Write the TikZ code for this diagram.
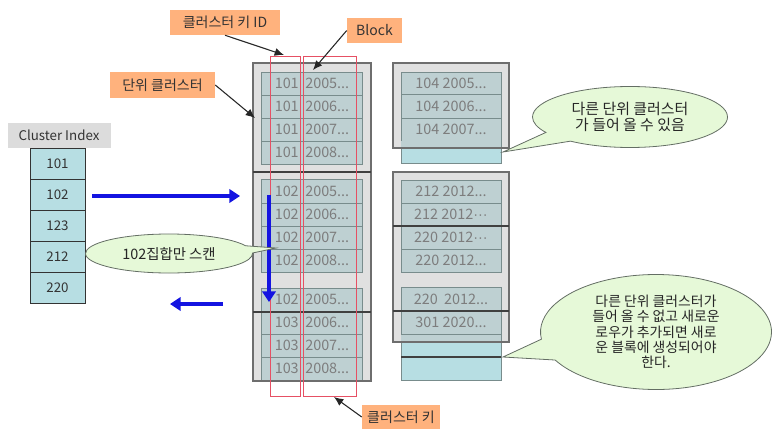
\documentclass[tikz,border=0pt]{standalone}
\usepackage{fontspec}
\setmainfont{Noto Sans CJK KR}
\newfontfamily\latdots{Liberation Sans}
\usetikzlibrary{arrows.meta,shapes.callouts}
\definecolor{lblfill}{RGB}{255,178,125}
\definecolor{rowfill}{RGB}{190,208,210}
\definecolor{cyanfill}{RGB}{183,222,227}
\definecolor{framefill}{RGB}{224,224,224}
\definecolor{framedraw}{RGB}{110,110,110}
\definecolor{rowdraw}{RGB}{120,140,140}
\definecolor{redline}{RGB}{230,80,100}
\definecolor{calfill}{RGB}{230,249,216}
\definecolor{caldraw}{RGB}{100,110,100}
\definecolor{bluearrow}{RGB}{20,20,225}
\definecolor{txtgray}{RGB}{125,125,125}
\definecolor{hdrfill}{RGB}{220,220,220}
\tikzset{
  lbl/.style={fill=lblfill, inner sep=0pt, font=\fontsize{10.5}{12}\selectfont, text=black!80},
  lblarrow/.style={draw=black!85, line width=0.8pt, -{Latex[length=7pt,width=6pt]}},
  framebox/.style={fill=framefill},
  framestroke/.style={draw=framedraw, line width=1.2pt},
  rowbox/.style={fill=rowfill, draw=rowdraw, line width=0.5pt},
  cyanbox/.style={fill=cyanfill, draw=rowdraw, line width=0.5pt},
  rowtxt/.style={inner sep=0pt, text=txtgray, font=\fontsize{10.8}{12}\selectfont},
  divider/.style={draw=black!75, line width=0.8pt},
  redbox/.style={draw=redline, line width=0.7pt},
  cal/.style={ellipse callout, fill=calfill, draw=caldraw, line width=0.6pt, inner sep=0pt,
    callout pointer arc=22, align=center, text=black!85},
  bluearr/.style={draw=bluearrow, line width=2.6pt, -{Triangle[length=8pt,width=10pt]}},
  idxcell/.style={fill=cyanfill, draw=black!80, line width=0.6pt, minimum width=55*0.75pt,
    minimum height=31*0.75pt, inner sep=0pt, font=\fontsize{10}{12}\selectfont, text=black!80},
}
\newcommand\lrow[5]{%
  \path[rowbox] (261,#2) rectangle (362,#3);
  \node[rowtxt,anchor=east] (#1n) at (299,{(#2+#3)/2}) {#4};
  \node[rowtxt,anchor=west] (#1d) at (305,{(#2+#3)/2}) {#5};}
\newcommand\rrow[4]{%
  \path[rowbox] (401,#2) rectangle (501,#3);
  \node[rowtxt] (#1) at (451,{(#2+#3)/2}) {#4};}
\begin{document}
\begin{tikzpicture}[x=0.75pt,y=-0.75pt]
\useasboundingbox (0,0) rectangle (773,442);

% ---------- left column of blocks ----------
\path[framebox] (253,63) rectangle (371,381);
\lrow{a1}{72}{95}{101}{2005...}
\lrow{a2}{95}{118}{101}{2006...}
\lrow{a3}{118}{141}{101}{2007...}
\lrow{a4}{141}{164}{101}{2008...}
\lrow{b1}{179}{203}{102}{2005...}
\lrow{b2}{203}{226}{102}{2006...}
\lrow{b3}{226}{249}{102}{2007...}
\lrow{b4}{249}{272}{102}{2008...}
\lrow{c1}{288}{311}{102}{2005...}
\lrow{c2}{311}{334}{103}{2006...}
\lrow{c3}{334}{357}{103}{2007...}
\lrow{c4}{357}{380}{103}{2008...}
\path[framestroke] (253,63) rectangle (371,381);
\path[divider] (253,172) -- (371,172);
\path[divider] (253,312) -- (371,312);
\path[redbox] (270,56) rectangle (300,396);
\path[redbox] (303,56) rectangle (356,396);

% ---------- right column, top block ----------
\path[framebox] (393,63) rectangle (509,148);
\rrow{d1}{72}{94}{104 2005...}
\rrow{d2}{94}{118}{104 2006...}
\rrow{d3}{118}{141}{104 2007...}
\path[cyanbox] (401,141) rectangle (501,163);
\path[fill=rowfill] (401.3,141.3) rectangle (500.7,148);
\path[framestroke] (393,63) rectangle (509,148);

% ---------- right column, lower block ----------
\path[framebox] (393,172) rectangle (509,342);
\rrow{e1}{180}{203}{212 2012...}
\rrow{e2}{203}{226}{212 2012{\latdots ···}}
\rrow{e3}{226}{249}{220 2012{\latdots ···}}
\rrow{e4}{249}{272}{220 2012...}
\rrow{f1}{287}{311}{220~~2012...}
\rrow{f2}{311}{334}{301 2020...}
\path[cyanbox] (401,334) rectangle (501,380);
\path[fill=rowfill] (401.3,334.3) rectangle (500.7,342);
\path[draw=rowdraw, line width=0.5pt] (401,334) -- (501,334);
\path[framestroke] (393,172) rectangle (509,342);
\path[divider] (393,226) -- (509,226);
\path[divider] (393,311) -- (509,311);
\path[divider] (401,357) -- (501,357);

% ---------- labels ----------
\node[lbl, minimum width=110*0.75pt, minimum height=25*0.75pt] (lkeyid) at (225,22.5) {클러스터 키 ID};
\node[lbl, minimum width=55*0.75pt, minimum height=25*0.75pt] (lblock) at (374.5,30.5) {Block};
\node[lbl, minimum width=105*0.75pt, minimum height=26*0.75pt] (lunit) at (162.5,85) {단위 클러스터};
\node[lbl, minimum width=78*0.75pt, minimum height=24*0.75pt] (lkey) at (401,417) {클러스터 키};
\coordinate (tkeyid) at (284,55);
\coordinate (tblock) at (313,70);
\coordinate (tunit) at (255,118);
\coordinate (tkey) at (334,397);
\draw[lblarrow] (lkeyid.south) -- (tkeyid);
\draw[lblarrow] (lblock.west) -- (tblock);
\draw[lblarrow] (lunit.east) -- (tunit);
\draw[lblarrow] (lkey.west) -- (tkey);

% ---------- cluster index ----------
\node[fill=hdrfill, minimum width=103*0.75pt, minimum height=25*0.75pt, inner sep=0pt,
  font=\fontsize{10}{11}\selectfont, text=black!80] (hdr) at (59,135.5) {Cluster Index};
\node[idxcell] (i1) at (57.5,163.5) {101};
\node[idxcell] (i2) at (57.5,194.5) {102};
\node[idxcell] (i3) at (57.5,225.5) {123};
\node[idxcell] (i4) at (57.5,256.5) {212};
\node[idxcell] (i5) at (57.5,287.5) {220};

% ---------- blue arrows ----------
\coordinate (bs1) at (92,196);
\coordinate (be1) at (240,196);
\coordinate (bs2) at (269,195);
\coordinate (be2) at (269,302);
\coordinate (bs3) at (223,304);
\coordinate (be3) at (170,304);
\draw[bluearr] (bs1) -- (be1);
\draw[bluearr] (bs2) -- (be2);
\draw[bluearr] (bs3) -- (be3);

% ---------- callouts ----------
\coordinate (p1) at (503,152);
\coordinate (p2) at (503,357);
\coordinate (p3) at (276,248);
\node[cal, minimum width=195*0.75pt, minimum height=61*0.75pt, callout absolute pointer={(p1)},
  font=\fontsize{11.2}{12.5}\selectfont]
  (c1) at (630,117) {다른 단위 클러스터\\가 들어 올 수 있음};
\node[cal, minimum width=231*0.75pt, minimum height=115*0.75pt, callout absolute pointer={(p2)},
  font=\fontsize{10.4}{11.4}\selectfont]
  (c2) at (656,332) {다른 단위 클러스터가\\들어 올 수 없고 새로운\\로우가 추가되면 새로\\운 블록에 생성되어야\\한다.};
\node[cal, minimum width=167*0.75pt, minimum height=39*0.75pt, callout absolute pointer={(p3)},
  font=\fontsize{10.8}{12}\selectfont]
  (c3) at (169,253.5) {102집합만 스캔};
\end{tikzpicture}
\end{document}
